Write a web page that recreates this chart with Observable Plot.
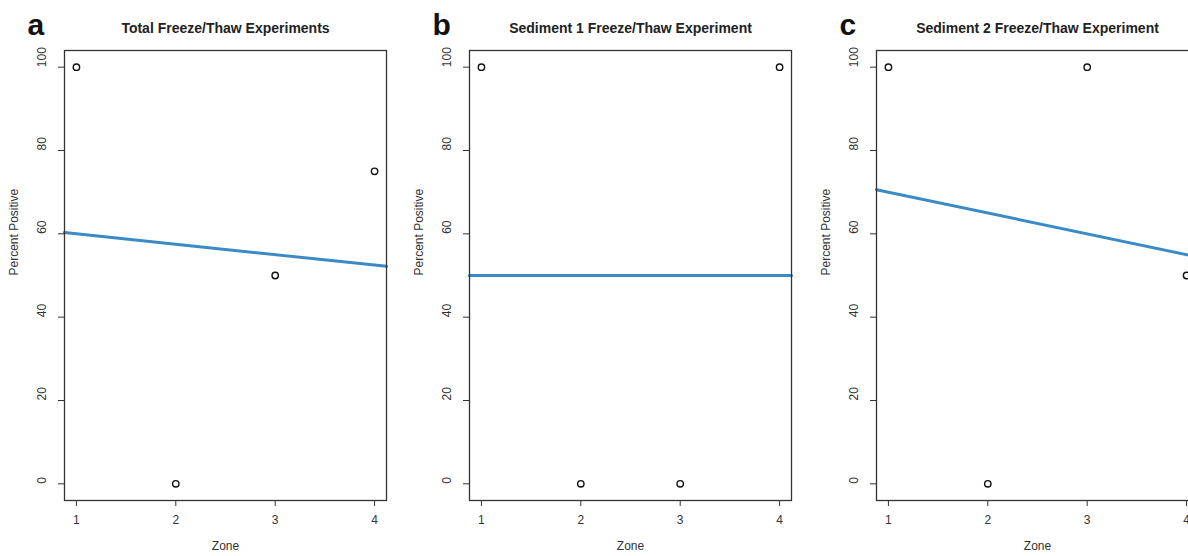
<!DOCTYPE html>
<html>
<head>
<meta charset="utf-8">
<script src="https://cdn.jsdelivr.net/npm/d3@7"></script>
<script src="https://cdn.jsdelivr.net/npm/@observablehq/plot@0.6"></script>
<style>
  html, body { margin: 0; padding: 0; background: #fff; }
  #wrap { position: relative; width: 1188px; height: 556px; overflow: hidden; background: #fff; }
  #wrap > svg { position: absolute; top: 0; }
</style>
</head>
<body>
<div id="wrap"></div>
<script>
// ---- data ----
const zones = [1, 2, 3, 4];
const totalPct = [100, 0, 50, 75];
const sed1Pct = [100, 0, 0, 100];
const sed2Pct = [100, 0, 100, 50];
const panelLetters = ["a", "b", "c"];
const panelTitles = [
  "Total Freeze/Thaw Experiments",
  "Sediment 1 Freeze/Thaw Experiment",
  "Sediment 2 Freeze/Thaw Experiment"
];
const fitIntercepts = [62.5, 50, 75];
const fitSlopes = [-2.5, 0, -5];
const xTicks = [1, 2, 3, 4];
const yTicks = [0, 20, 40, 60, 80, 100];
const xLabel = "Zone";
const yLabel = "Percent Positive";

// ---- layout ----
const panelLefts = [0, 405, 812];
const xDomain = [0.88, 4.12];
const yDomain = [-4, 104];
const seriesList = [totalPct, sed1Pct, sed2Pct];

const wrap = document.getElementById("wrap");

seriesList.forEach((vals, i) => {
  const pts = zones.map((z, k) => ({x: z, y: vals[k]}));
  const fit = xDomain.map(x => ({x, y: fitIntercepts[i] + fitSlopes[i] * x}));
  const chart = Plot.plot({
    width: 400,
    height: 556,
    marginLeft: 64,
    marginRight: 14,
    marginTop: 50,
    marginBottom: 56,
    style: {fontFamily: "'Liberation Sans', Arial, sans-serif", background: "transparent", overflow: "visible"},
    x: {domain: xDomain},
    y: {domain: yDomain},
    marks: [
      Plot.line(fit, {x: "x", y: "y", stroke: "#3b8ac6", strokeWidth: 3}),
      Plot.frame({stroke: "#333", strokeWidth: 1.3}),
      Plot.dot(pts, {x: "x", y: "y", r: 3.2, stroke: "#111", strokeWidth: 1.4, fill: "none"}),
      Plot.axisX({ticks: xTicks, tickSize: 6, tickFormat: () => "", label: null, stroke: "#333"}),
      Plot.axisY({ticks: yTicks, tickSize: 6, tickFormat: () => "", label: null, stroke: "#333"}),
      Plot.text(xTicks, {x: d => d, frameAnchor: "bottom", dy: 23, text: d => String(d), fontSize: 12, fill: "#333"}),
      Plot.text(yTicks, {y: d => d, frameAnchor: "left", dx: -22, rotate: -90, text: d => String(d), fontSize: 12, fill: "#333"}),
      Plot.text([xLabel], {frameAnchor: "bottom", dy: 49, text: d => d, fontSize: 12, fill: "#333"}),
      Plot.text([yLabel], {frameAnchor: "left", dx: -50, rotate: -90, text: d => d, fontSize: 12, fill: "#333"}),
      Plot.text([panelTitles[i]], {frameAnchor: "top", dy: -27, text: d => d, fontSize: 14, fontWeight: "bold", fill: "#222"}),
      Plot.text([panelLetters[i]], {frameAnchor: "top-left", dx: -37, dy: -16, lineAnchor: "bottom", text: d => d, fontSize: 30, fontWeight: "bold", fill: "#111"})
    ]
  });
  chart.style.left = panelLefts[i] + "px";
  wrap.appendChild(chart);
});
</script>
</body>
</html>
